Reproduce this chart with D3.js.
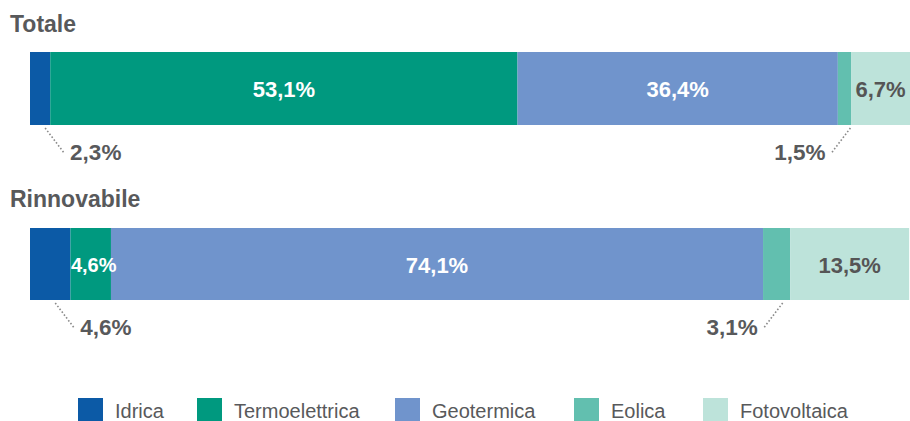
<!DOCTYPE html>
<html>
<head>
<meta charset="utf-8">
<script src="https://cdn.jsdelivr.net/npm/d3@7"></script>
<style>
  html, body { margin: 0; padding: 0; background: #fff; }
  svg { display: block; font-family: "Liberation Sans", Arial, Helvetica, sans-serif; }
</style>
</head>
<body>
<svg id="chart" width="910" height="421"></svg>
<script>
// Energy sources
const sources = ["Idrica", "Termoelettrica", "Geotermica", "Eolica", "Fotovoltaica"];
const sourceColors = ["#0c5aa6", "#00997f", "#7094cc", "#62bfaf", "#bde3da"];

// Groups and shares (%)
const groups = ["Totale", "Rinnovabile"];
const totaleValues = [2.3, 53.1, 36.4, 1.5, 6.7];
const rinnovabileValues = [4.6, 4.6, 74.1, 3.1, 13.5];

const svg = d3.select("#chart");
const textGrey = "#58595b";

const x = d3.scaleLinear().domain([0, 100]).range([30, 910]);
const color = d3.scaleOrdinal().domain(sources).range(sourceColors);

// layout of each group: title baseline, bar top, bar height
const layout = [
  { name: groups[0], values: totaleValues, titleY: 32, top: 52, h: 73,
    // label placement: "in" = inside the bar, "left"/"right" = below with leader
    place: ["left", "in", "in", "right", "in"],
    inTextColor: ["#fff", "#fff", "#fff", "#fff", "#555"] },
  { name: groups[1], values: rinnovabileValues, titleY: 207, top: 228, h: 72,
    place: ["left", "in", "in", "right", "in"],
    inTextColor: ["#fff", "#fff", "#fff", "#fff", "#555"] }
];

const fmt = v => d3.format(".1f")(v).replace(".", ",") + "%";
const narrow = d => x(d.x1) - x(d.x0) < 50;

layout.forEach(g => {
  const cum = d3.cumsum(g.values);
  const segs = g.values.map((v, i) => ({ key: sources[i], v, x0: cum[i] - v, x1: cum[i], i }));

  svg.append("text")
    .attr("x", 10).attr("y", g.titleY)
    .attr("font-size", 23).attr("font-weight", "bold")
    .attr("fill", textGrey)
    .text(g.name);

  const grp = svg.append("g");
  grp.selectAll("rect").data(segs).join("rect")
    .attr("x", d => x(d.x0))
    .attr("y", g.top)
    .attr("width", d => x(d.x1) - x(d.x0))
    .attr("height", g.h)
    .attr("fill", d => color(d.key));

  // inside labels (slightly smaller in narrow segments)
  grp.selectAll("text.in").data(segs.filter(d => g.place[d.i] === "in")).join("text")
    .attr("class", "in")
    .attr("x", d => (x(d.x0) + x(d.x1)) / 2 + (narrow(d) ? 3 : 0))
    .attr("y", g.top + g.h / 2)
    .attr("dy", "0.4em")
    .attr("text-anchor", "middle")
    .attr("font-size", d => narrow(d) ? 20 : 22)
    .attr("font-weight", "bold")
    .attr("fill", d => g.inTextColor[d.i])
    .text(d => fmt(d.v));

  // outside labels with dotted leaders
  segs.filter(d => g.place[d.i] !== "in").forEach(d => {
    const cx = (x(d.x0) + x(d.x1)) / 2;
    const y0 = g.top + g.h + 3;
    const y1 = y0 + 25;
    const dir = g.place[d.i] === "left" ? 1 : -1;
    const sx = cx + (dir > 0 ? 5 : 6);
    const ex = sx + dir * 19;
    grp.append("line")
      .attr("x1", sx).attr("y1", y0)
      .attr("x2", ex).attr("y2", y1)
      .attr("stroke", "#8a8a8a").attr("stroke-width", 1.6)
      .attr("stroke-dasharray", "1.6,2");
    grp.append("text")
      .attr("x", ex + dir * 6)
      .attr("y", y1 + 7)
      .attr("text-anchor", dir > 0 ? "start" : "end")
      .attr("font-size", 22.5).attr("font-weight", "bold")
      .attr("fill", textGrey)
      .text(fmt(d.v));
  });
});

// legend
const legendX = [78, 197, 395, 574, 703];
const lg = svg.append("g").selectAll("g").data(sources).join("g")
  .attr("transform", (d, i) => `translate(${legendX[i]},398)`);
lg.append("rect").attr("width", 25).attr("height", 25).attr("fill", d => color(d));
lg.append("text")
  .attr("x", 37).attr("y", 19.5)
  .attr("font-size", 20)
  .attr("fill", textGrey)
  .text(d => d);
</script>
</body>
</html>
